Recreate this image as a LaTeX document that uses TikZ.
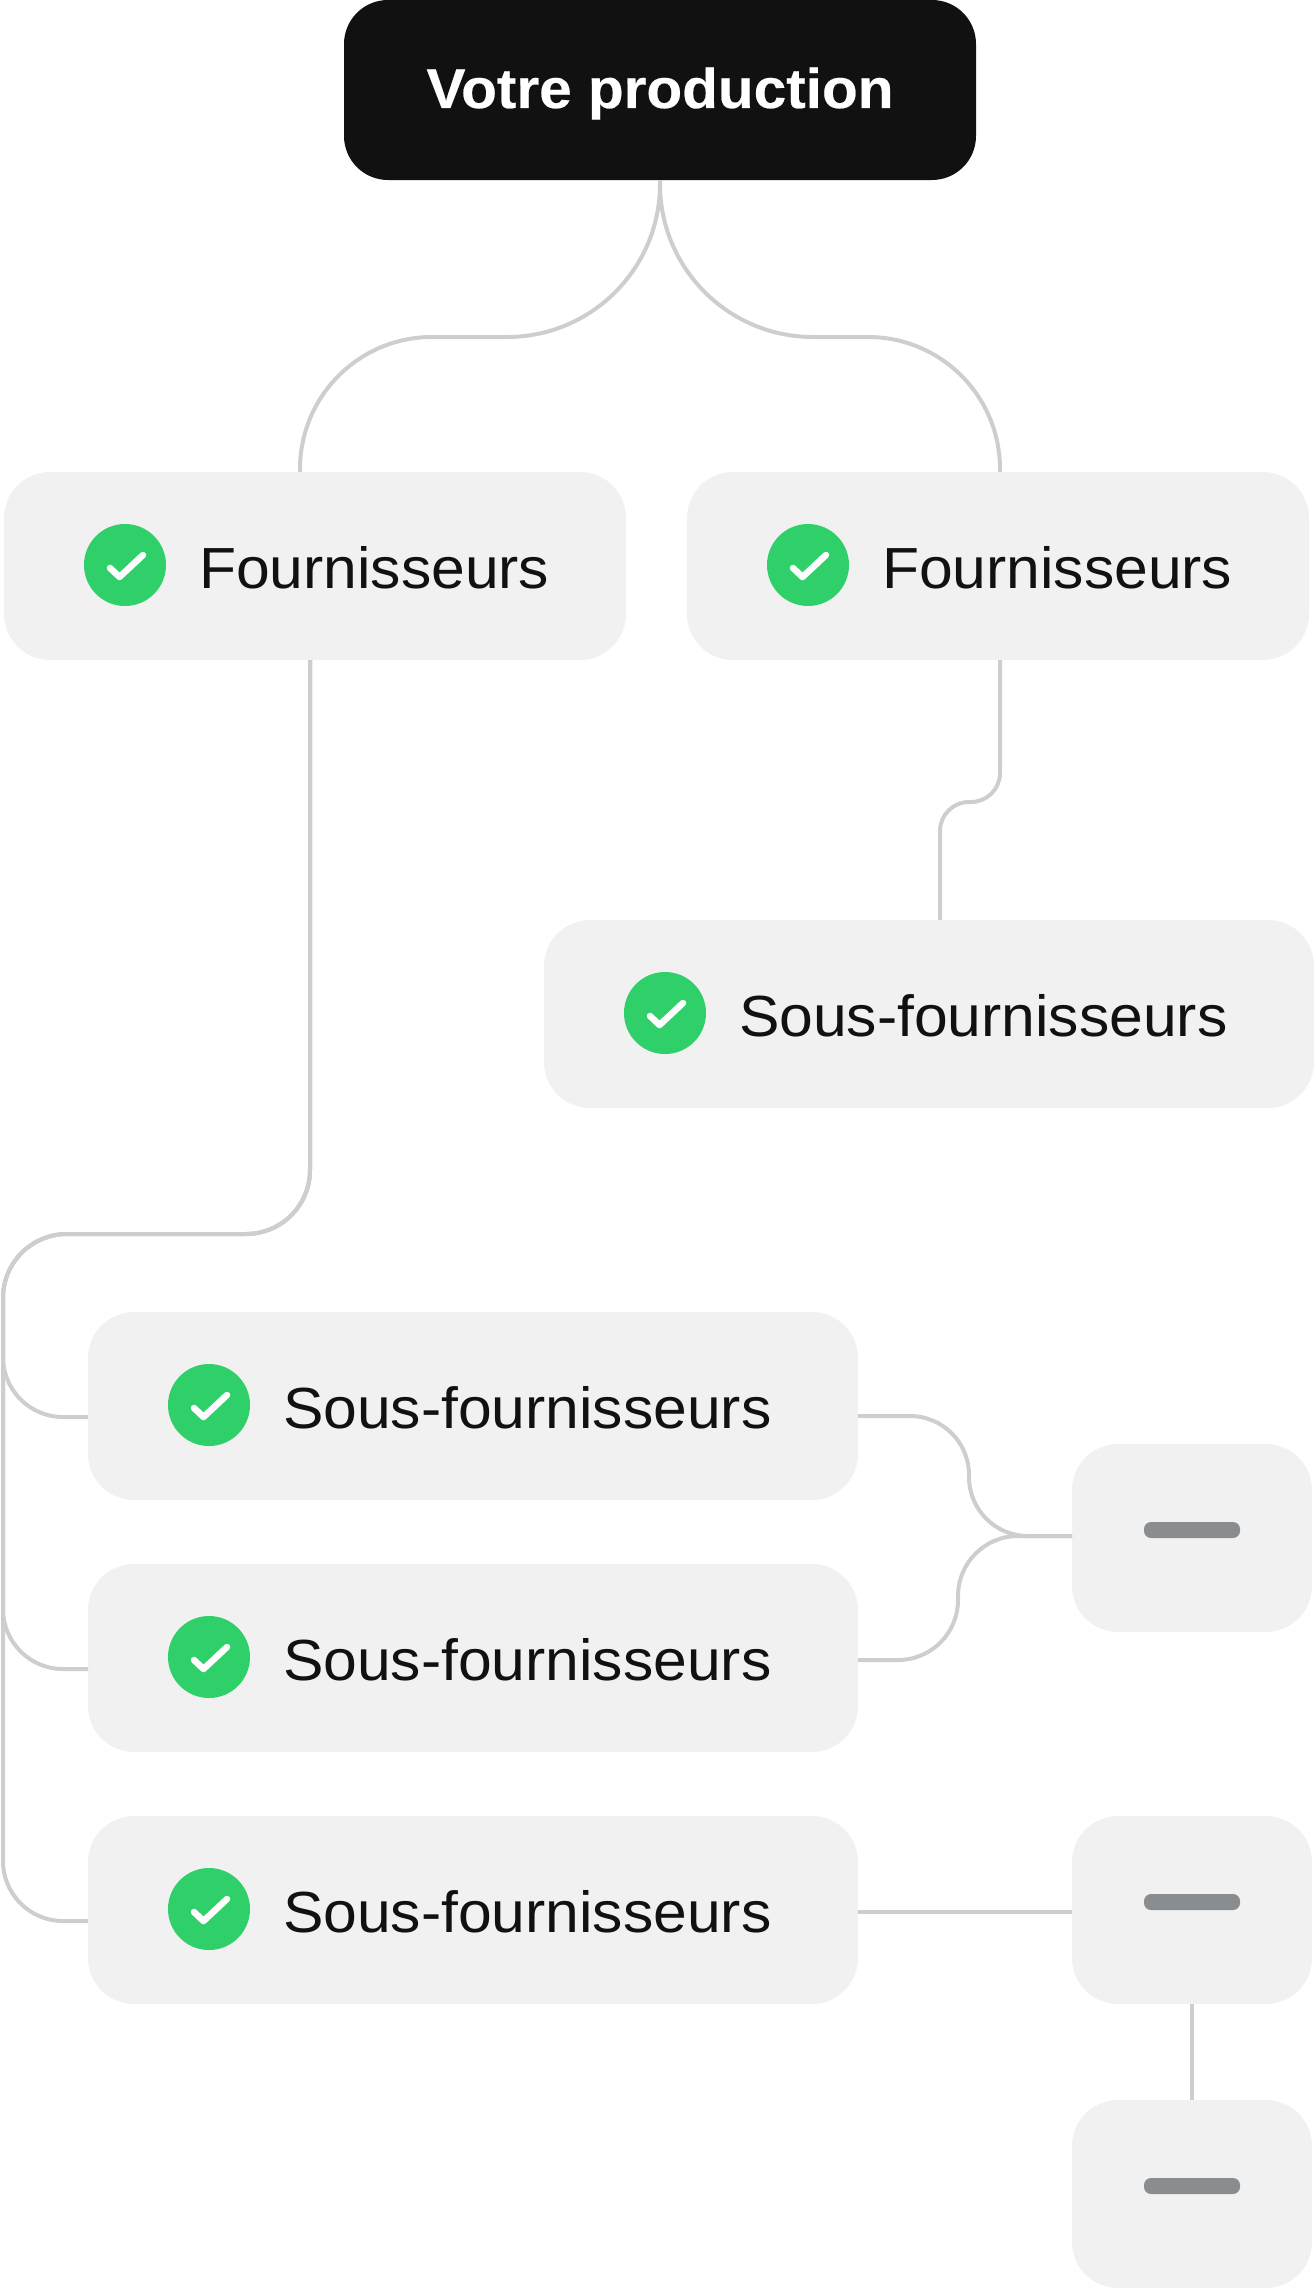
\documentclass[tikz,border=0pt]{standalone}
\usepackage{fontspec}
\setmainfont[FakeStretch=1.045, BoldFeatures={FakeStretch=1.045, FakeBold=0.4}]{Liberation Sans}
\usetikzlibrary{positioning, calc}

\definecolor{ink}{HTML}{111111}
\definecolor{panel}{HTML}{F1F1F1}
\definecolor{okgreen}{HTML}{2FD069}
\definecolor{wire}{HTML}{CDCED0}
\definecolor{barfill}{HTML}{8A8D8F}

\begin{document}
\begin{tikzpicture}[
  x=1pt, y=-1pt,
  rootbox/.style = {fill=ink, text=white, rounded corners=44pt, minimum width=632pt, minimum height=180pt, inner sep=0pt, outer sep=0pt, font=\fontsize{56}{60}\selectfont\bfseries, text height=41pt, text depth=5pt},
  panelbox/.style = {fill=panel, rounded corners=46pt, minimum height=188pt, inner sep=0pt, outer sep=0pt},
  widebox/.style = {panelbox, minimum width=770pt},
  midbox/.style = {panelbox, minimum width=622pt},
  tinybox/.style = {panelbox, minimum width=240pt},
  okmark/.style = {circle, fill=okgreen, minimum size=82pt, inner sep=0pt, outer sep=0pt, yshift=1pt,
    path picture={\draw[white, line width=6.5pt, line cap=round, line join=round]
      ($(path picture bounding box.center)+(-15,3)$) -- ++(9.5,9) -- ++(23.5,-22);}},
  caption/.style = {text=ink, inner sep=0pt, outer sep=0pt, font=\fontsize{58}{62}\selectfont, text height=41pt, text depth=0pt, yshift=-3pt},
  dashbar/.style = {fill=barfill, rounded corners=7pt, minimum width=96pt, minimum height=16pt, inner sep=0pt, yshift=8pt},
  link/.style = {draw=wire, line width=4pt}
]
  \useasboundingbox (0,0) rectangle (1316,2288);

  % Root
  \node[rootbox] (root) at (660,90) {Votre production};

  % First level
  \node[midbox] (fourA) at (315,566) {};
  \node[midbox, right=61pt of fourA] (fourB) {};
  \node[okmark, right=80pt of fourA.west] (okA) {};
  \node[okmark, right=80pt of fourB.west] (okB) {};
  \node[caption, right=33pt of okA] (textA) {Fournisseurs};
  \node[caption, right=33pt of okB] (textB) {Fournisseurs};

  % Second level, right
  \node[widebox] (subTop) at (929,1014) {};
  \node[okmark, right=80pt of subTop.west] (okTop) {};
  \node[caption, right=33pt of okTop] (textTop) {Sous-fournisseurs};

  % Second level, left
  \node[widebox] (subA) at (473,1406) {};
  \node[widebox, below=64pt of subA] (subB) {};
  \node[widebox, below=64pt of subB] (subC) {};
  \foreach \sub in {subA,subB,subC} {
    \node[okmark, right=80pt of \sub.west] (ok\sub) {};
    \node[caption, right=33pt of ok\sub] (text\sub) {Sous-fournisseurs};
  }

  % Small boxes
  \node[tinybox] (minusA) at (1192,1538) {};
  \node[tinybox, right=214pt of subC] (minusB) {};
  \node[tinybox, below=96pt of minusB] (minusC) {};
  \foreach \spot in {minusA,minusB,minusC} {
    \node[dashbar] (bar\spot) at (\spot.center) {};
  }

  % Root -> first level
  \draw[link] [rounded corners=153pt] (root.south) -- (660,337) [rounded corners=132pt] -- (300,337) -- ([xshift=-15pt]fourA.north);
  \draw[link] [rounded corners=153pt] (root.south) -- (660,337) [rounded corners=132pt] -- (1000,337) -- ([xshift=2pt]fourB.north);

  % Right branch
  \draw[link, rounded corners=29pt] ([xshift=2pt]fourB.south) -- (1000,802) -- (940,802) -- ([xshift=11pt]subTop.north);

  % Left branch
  \coordinate (bus) at (3,1234);
  \foreach \sub in {subA,subB,subC} {
    \draw[link] [rounded corners=64pt] ([xshift=-5pt]fourA.south) -- (310,1234) -- (bus) [rounded corners=60pt] |- ([yshift=-11pt]\sub.west);
  }

  % Towards small boxes
  \draw[link, rounded corners=59pt] ([yshift=-10pt]subA.east) -- (969,1416) -- (969,1536) -- ([yshift=2pt]minusA.west);
  \draw[link, rounded corners=60pt] ([yshift=-2pt]subB.east) -- (958,1660) -- (958,1536) -- ([yshift=2pt]minusA.west);
  \draw[link] ([yshift=-2pt]subC.east) -- ([yshift=-2pt]minusB.west);
  \draw[link] (minusB.south) -- (minusC.north);
\end{tikzpicture}
\end{document}
